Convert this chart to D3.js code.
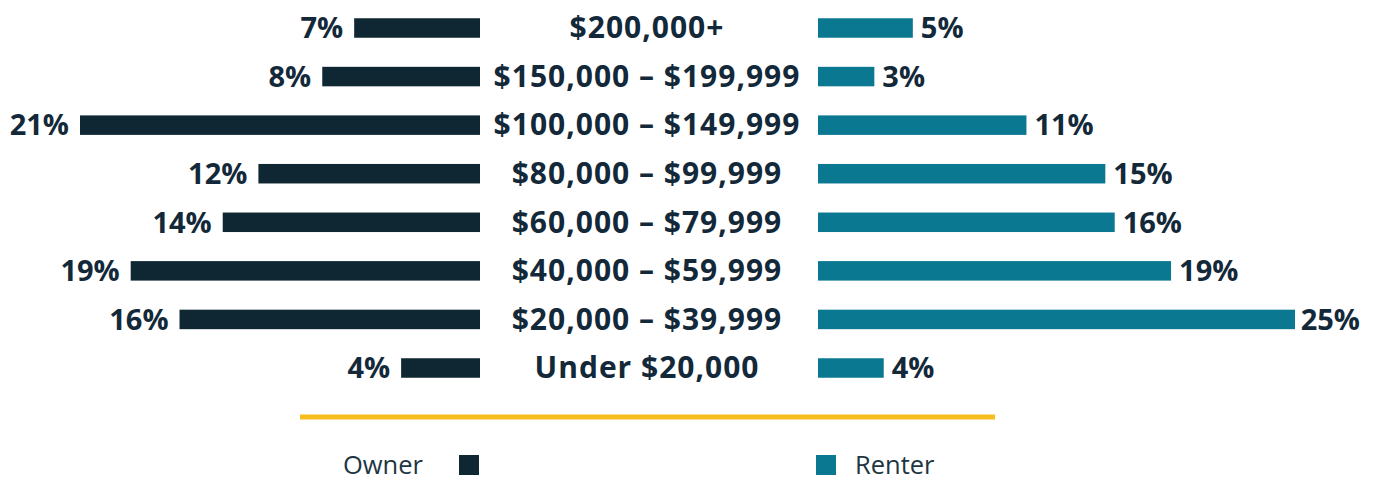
<!DOCTYPE html>
<html>
<head>
<meta charset="utf-8">
<script src="https://cdn.jsdelivr.net/npm/d3@7"></script>
<style>
  html, body { margin: 0; padding: 0; background: #ffffff; }
  svg { display: block; }
</style>
</head>
<body>
<div id="chart"></div>
<script>
// ---- data ----
const categories = [
  "$200,000+",
  "$150,000 – $199,999",
  "$100,000 – $149,999",
  "$80,000 – $99,999",
  "$60,000 – $79,999",
  "$40,000 – $59,999",
  "$20,000 – $39,999",
  "Under $20,000"
];
const ownerValues  = [6.7, 8.4, 21.3, 11.8, 13.7, 18.6, 16.0, 4.2];
const renterValues = [5.05, 3.0, 11.1, 15.3, 15.8, 18.8, 25.4, 3.5];
const ownerLabels  = ["7%", "8%", "21%", "12%", "14%", "19%", "16%", "4%"];
const renterLabels = ["5%", "3%", "11%", "15%", "16%", "19%", "25%", "4%"];
const seriesNames  = ["Owner", "Renter"];

// ---- styles ----
const W = 1375, H = 480;
const ownerColor = "#0f2733";
const renterColor = "#0b7892";
const textColor = "#13293a";
const ruleColor = "#f7bd1c";
const font = "'Open Sans', 'Noto Sans', sans-serif";
const fs = 29;
const catFs = 30;

const svg = d3.select("#chart").append("svg")
  .attr("width", W).attr("height", H);

const maxVal = 25.4;
const xOwner = d3.scaleLinear().domain([0, maxVal]).range([480, 3]);
const xRenter = d3.scaleLinear().domain([0, maxVal]).range([818, 1295]);
const y = d3.scalePoint().domain(categories).range([28, 368]);
const barH = 19.5;

const rows = categories.map((c, i) => ({
  cat: c, o: ownerValues[i], r: renterValues[i], ol: ownerLabels[i], rl: renterLabels[i]
}));

// owner bars
svg.append("g").selectAll("rect").data(rows).join("rect")
  .attr("x", d => xOwner(d.o))
  .attr("y", d => y(d.cat) - barH / 2)
  .attr("width", d => xOwner(0) - xOwner(d.o))
  .attr("height", barH)
  .attr("fill", ownerColor);

// renter bars
svg.append("g").selectAll("rect").data(rows).join("rect")
  .attr("x", xRenter(0))
  .attr("y", d => y(d.cat) - barH / 2)
  .attr("width", d => xRenter(d.r) - xRenter(0))
  .attr("height", barH)
  .attr("fill", renterColor);

const baseOff = fs * 0.357;

// owner value labels
svg.append("g").selectAll("text").data(rows).join("text")
  .attr("x", d => xOwner(d.o) - 11)
  .attr("y", d => y(d.cat) + baseOff)
  .attr("text-anchor", "end")
  .attr("font-family", font).attr("font-weight", 700).attr("font-size", fs)
  .attr("fill", textColor)
  .text(d => d.ol);

// renter value labels
svg.append("g").selectAll("text").data(rows).join("text")
  .attr("x", d => xRenter(d.r) + 8)
  .attr("y", d => y(d.cat) + baseOff)
  .attr("text-anchor", "start")
  .attr("font-family", font).attr("font-weight", 700).attr("font-size", fs)
  .attr("fill", textColor)
  .text(d => d.rl)
  .each(function(d) {
    const t = d3.select(this);
    const w = this.getComputedTextLength();
    const x = +t.attr("x");
    if (x + w > 1360) t.attr("x", 1360 - w);
  });

// category labels
svg.append("g").selectAll("text").data(rows).join("text")
  .attr("x", (xOwner(0) + xRenter(0)) / 2 - 2)
  .attr("y", d => y(d.cat) + baseOff)
  .attr("text-anchor", "middle")
  .attr("font-family", font).attr("font-weight", 700).attr("font-size", catFs)
  .attr("letter-spacing", 1)
  .attr("fill", textColor)
  .text(d => d.cat);

// yellow rule
svg.append("line")
  .attr("x1", 300).attr("x2", 995)
  .attr("y1", 417).attr("y2", 417)
  .attr("stroke", ruleColor).attr("stroke-width", 5);

// legend
const legend = svg.append("g");
legend.append("text")
  .attr("x", 343).attr("y", 474)
  .attr("font-family", font).attr("font-size", 25.5)
  .attr("fill", "#1e3542")
  .text(seriesNames[0]);
legend.append("rect")
  .attr("x", 459).attr("y", 455).attr("width", 20).attr("height", 20)
  .attr("fill", ownerColor);
legend.append("rect")
  .attr("x", 816).attr("y", 455).attr("width", 20).attr("height", 20)
  .attr("fill", renterColor);
legend.append("text")
  .attr("x", 855).attr("y", 474)
  .attr("font-family", font).attr("font-size", 25.5)
  .attr("fill", "#1e3542")
  .text(seriesNames[1]);
</script>
</body>
</html>
